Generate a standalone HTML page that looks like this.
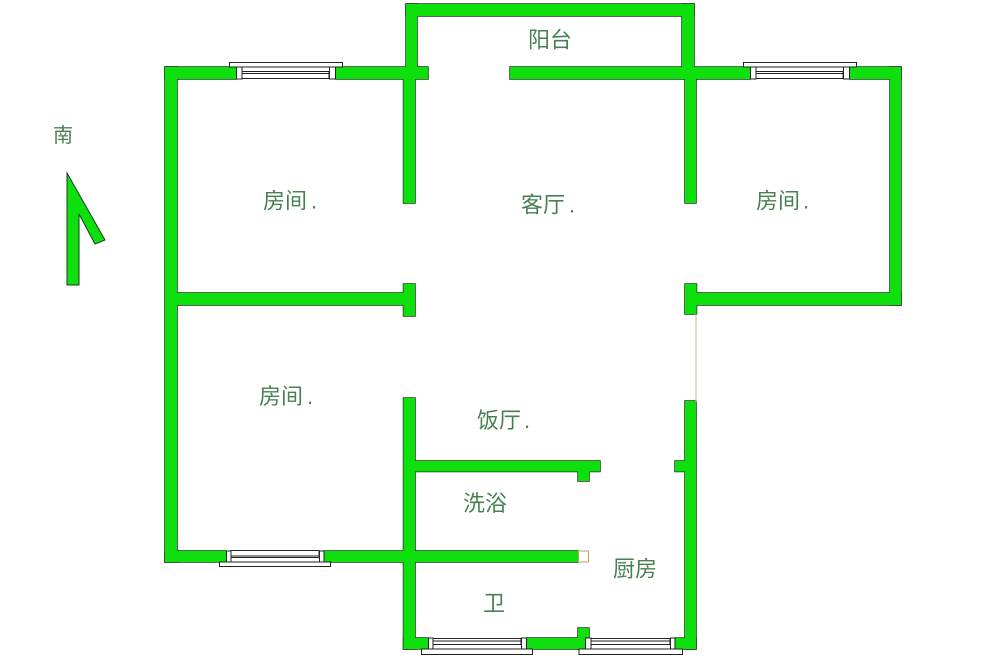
<!DOCTYPE html>
<html><head><meta charset="utf-8"><style>
html,body{margin:0;padding:0;background:#fff;width:1000px;height:665px;overflow:hidden}
svg{display:block}
text{font-family:"Liberation Sans","Noto Sans CJK SC",sans-serif;font-size:22px;fill:#4a8053}
.f{fill:#fff;stroke:#222;stroke-width:1}
</style></head><body>
<svg width="1000" height="665" viewBox="0 0 1000 665">
<defs>
<filter id="b" x="0" y="0" width="1000" height="665" filterUnits="userSpaceOnUse"><feGaussianBlur stdDeviation="0.300"/></filter>
<g id="w">
<!-- balcony -->
<rect x="406" y="4" width="288" height="12"/>
<rect x="406" y="4" width="11" height="70"/>
<rect x="682" y="4" width="12" height="70"/>
<!-- top wall -->
<rect x="165" y="67" width="71" height="12"/>
<rect x="336" y="67" width="92" height="12"/>
<rect x="510" y="67" width="240" height="12"/>
<rect x="850" y="67" width="51" height="12"/>
<!-- outer -->
<rect x="165" y="67" width="12" height="495"/>
<rect x="890" y="67" width="11" height="238"/>
<!-- room partitions -->
<rect x="403.500" y="70" width="11.500" height="133"/>
<rect x="685" y="70" width="11" height="133"/>
<rect x="170" y="293" width="240" height="12"/>
<rect x="403.500" y="284" width="11.500" height="32"/>
<rect x="685" y="284" width="11.500" height="30"/>
<rect x="690" y="293" width="211" height="12"/>
<!-- lower -->
<rect x="403.500" y="398" width="11.500" height="251"/>
<rect x="410" y="461" width="190" height="10.500"/>
<rect x="578" y="465" width="11" height="16"/>
<rect x="165" y="551" width="61" height="11"/>
<rect x="324" y="551" width="254" height="11"/>
<rect x="685" y="401" width="11" height="248"/>
<rect x="675" y="461" width="15" height="10.500"/>
<rect x="403.500" y="638" width="24.500" height="11"/>
<rect x="527" y="638" width="58" height="11"/>
<rect x="578" y="628" width="11" height="21"/>
<rect x="675" y="638" width="21" height="11"/>
</g>
</defs>
<g filter="url(#b)">
<use href="#w" fill="#1a3a1a" stroke="#1a3a1a" stroke-width="1.500"/>
<use href="#w" fill="#0fe00f"/>

<!-- thin line and square -->
<line x1="696" y1="314" x2="696" y2="402" stroke="#b8b890" stroke-width="1"/>
<rect x="578.500" y="551" width="10" height="11" fill="#fff" stroke="#b9a060" stroke-width="1"/>

<!-- top-left window -->
<rect class="f" x="229.500" y="62.500" width="113" height="4.500"/>
<rect class="f" x="242" y="71.500" width="87" height="7"/><line x1="242" y1="73.500" x2="329" y2="73.500" stroke="#222"/>
<rect class="f" x="236.500" y="67" width="5.500" height="12"/><rect class="f" x="329.500" y="67" width="6" height="12"/>
<!-- top-right window -->
<rect class="f" x="743.500" y="62.500" width="113" height="4.500"/>
<rect class="f" x="756" y="71.500" width="87" height="7"/><line x1="756" y1="73.500" x2="843" y2="73.500" stroke="#222"/>
<rect class="f" x="750.500" y="67" width="5.500" height="12"/><rect class="f" x="843.500" y="67" width="6" height="12"/>
<!-- bottom-left window -->
<rect class="f" x="219.500" y="562" width="111" height="4.500"/>
<rect class="f" x="231" y="550.500" width="88" height="5.500"/><line x1="231" y1="557.500" x2="319" y2="557.500" stroke="#222"/>
<rect class="f" x="226.500" y="551" width="4.500" height="11"/><rect class="f" x="319.500" y="551" width="4.500" height="11"/>
<!-- bottom windows -->
<rect class="f" x="421.500" y="649" width="111" height="5.500"/>
<rect class="f" x="433" y="638.500" width="88" height="6"/><line x1="433" y1="641" x2="521" y2="641" stroke="#222"/>
<rect class="f" x="428.500" y="638" width="4.500" height="11"/><rect class="f" x="521.500" y="638" width="5" height="11"/>
<rect class="f" x="579" y="649" width="103.500" height="5.500"/>
<rect class="f" x="591" y="638.500" width="79" height="6"/><line x1="591" y1="641" x2="670" y2="641" stroke="#222"/>
<rect class="f" x="585.500" y="638" width="5.500" height="11"/><rect class="f" x="670.500" y="638" width="4.500" height="11"/>

<!-- north arrow -->
<polygon points="67,173 105,240 95,244 79,214 79,285 67,285" fill="#0fe00f" stroke="#1a3a1a" stroke-width="1"/>
</g>

<g filter="url(#b)">
<text x="53" y="142" style="font-size:20px">南</text>
<text x="528" y="47.500">阳台</text>
<text x="263" y="208.500">房间<tspan x="311">.</tspan></text>
<text x="521" y="212.500">客厅<tspan x="569">.</tspan></text>
<text x="756" y="208.500">房间<tspan x="803">.</tspan></text>
<text x="259" y="404">房间<tspan x="307">.</tspan></text>
<text x="477" y="428">饭厅<tspan x="524">.</tspan></text>
<text x="463" y="511">洗浴</text>
<text x="613" y="576.500">厨房</text>
<text x="483" y="611">卫</text>
</g>
</svg>
</body></html>
